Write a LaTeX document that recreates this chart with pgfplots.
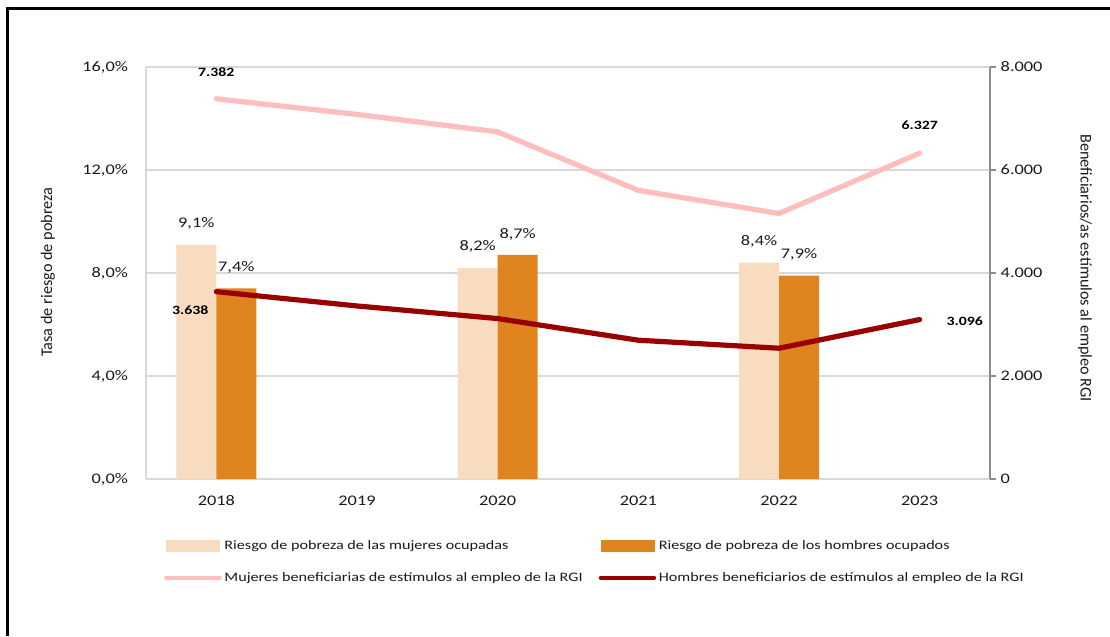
\documentclass[border=0pt]{standalone}
\usepackage{fontspec}
\setmainfont{Carlito}[FakeStretch=1.25]
\newfontfamily\plainfont{Carlito}
\usepackage{pgfplots}
\pgfplotsset{compat=1.18}
\definecolor{barW}{HTML}{F8DCC0}
\definecolor{barM}{HTML}{E0841F}
\definecolor{lineW}{HTML}{FFBDBD}
\definecolor{lineM}{HTML}{990000}
\definecolor{gridL}{HTML}{D9D9D9}
\definecolor{axisR}{HTML}{8C8C8C}
\definecolor{inkT}{HTML}{1A1A1A}
\pgfplotsset{
  base/.style={
    scale only axis, width=633pt, height=309pt,
    at={(109.5pt,117.75pt)}, anchor=south west,
    xmin=-0.5, xmax=5.5,
    ticklabel style={font=\fontsize{11}{13}\selectfont, text=inkT},
    /pgf/number format/assume math mode=true,
  },
}
\tikzset{
  vallab/.style={font=\bfseries\fontsize{9.5}{11}\selectfont, text=black, inner sep=0pt, anchor=center},
}

\begin{document}
\begin{tikzpicture}[x=0.75pt, y=0.75pt]
\useasboundingbox (0,0) rectangle (1110,636);

% left axis: bars
\begin{axis}[base,
    ymin=0, ymax=16, ytick={0,4,8,12,16},
    yticklabel={\pgfmathprintnumber[fixed,fixed zerofill,precision=1,use comma,assume math mode=true]{\tick}\%},
    axis x line*=bottom, axis y line*=left,
    axis line style={gridL, line width=1.5pt, -},
    ymajorgrids, grid style={gridL, line width=1pt},
    major tick length=0pt,
    xtick={0,...,5}, xticklabels={2018,2019,2020,2021,2022,2023},
    yticklabel style={xshift=-10pt},
    xticklabel style={yshift=-9pt},
    ylabel={\plainfont\fontsize{12.2}{14}\selectfont Tasa de riesgo de pobreza},
    ylabel style={at={(axis description cs:-0.1163,0.502)}, anchor=center, text=inkT},
    every node near coord/.append style={font=\fontsize{11}{13}\selectfont, text=inkT, inner sep=0pt, anchor=center, yshift=15.75pt},
  ]
  \addplot[ybar, bar width=30pt, bar shift=-15pt, fill=barW, draw=none,
    every node near coord/.append style={xshift=-15pt},
    nodes near coords={\pgfmathprintnumber[fixed,fixed zerofill,precision=1,use comma,assume math mode=true]{\pgfplotspointmeta}\%}]
    coordinates {(0,9.1) (2,8.2) (4,8.4)};
  \addplot[ybar, bar width=30pt, bar shift=15pt, fill=barM, draw=none,
    every node near coord/.append style={xshift=15pt},
    nodes near coords={\pgfmathprintnumber[fixed,fixed zerofill,precision=1,use comma,assume math mode=true]{\pgfplotspointmeta}\%}]
    coordinates {(0,7.4) (2,8.7) (4,7.9)};
\end{axis}

% right axis: lines
\begin{axis}[base,
    ymin=0, ymax=8000, ytick={0,2000,4000,6000,8000},
    axis x line=none, axis y line*=right,
    y axis line style={axisR, line width=1pt, -},
    every tick/.style={axisR, line width=1pt},
    tick align=outside, major tick length=4.5pt,
    yticklabel style={/pgf/number format/.cd, fixed, 1000 sep={.}},
    xtick=\empty,
    ylabel={\plainfont\fontsize{12.2}{14}\selectfont Beneficiarios/as estímulos al empleo RGI},
    ylabel style={at={(axis description cs:1.1126,0.512)}, anchor=center, rotate=180, text=inkT},
    legend columns=2, legend cell align=left,
    legend style={at={(axis description cs:0.0213,-0.142)}, anchor=north west,
      draw=none, fill=none, inner sep=0pt,
      font=\fontsize{9.7}{12}\selectfont, text=inkT,
      row sep=11.75pt,
      /tikz/every even column/.append style={column sep=10pt}},
  ]
  \addlegendimage{legend image code/.code={\fill[barW] (0pt,-4pt) rectangle (39.75pt,4pt);}}
  \addlegendentry{Riesgo de pobreza de las mujeres ocupadas}
  \addlegendimage{legend image code/.code={\fill[barM] (0pt,-4pt) rectangle (39.75pt,4pt);}}
  \addlegendentry{Riesgo de pobreza de los hombres ocupados}
  \addplot[lineW, line width=3.9pt, line cap=round, line join=round,
    legend image code/.code={\draw[lineW, line width=3.4pt, line cap=round] (0pt,0pt) -- (39.75pt,0pt);}]
    coordinates {(0,7382) (1,7080) (2,6740) (3,5605) (4,5156) (5,6327)};
  \addlegendentry{Mujeres beneficiarias de estímulos al empleo de la RGI}
  \addplot[lineM, line width=3.9pt, line cap=round, line join=round,
    legend image code/.code={\draw[lineM, line width=3.4pt, line cap=round] (0pt,0pt) -- (39.75pt,0pt);}]
    coordinates {(0,3638) (1,3360) (2,3115) (3,2695) (4,2539) (5,3096)};
  \addlegendentry{Hombres beneficiarios de estímulos al empleo de la RGI}
  \node[vallab] at (axis cs:0,7382) [yshift=20.25pt] {7.382};
  \node[vallab] at (axis cs:5,6327) [yshift=21pt] {6.327};
  \node[vallab] at (axis cs:0,3638) [xshift=-19.5pt, yshift=-14pt] {3.638};
  \node[vallab] at (axis cs:5,3096) [xshift=33.75pt, yshift=-1.5pt] {3.096};
\end{axis}

\draw[black, line width=2.25pt] (7.5,0) -- (7.5,627.5) -- (1110,627.5);
\end{tikzpicture}
\end{document}
